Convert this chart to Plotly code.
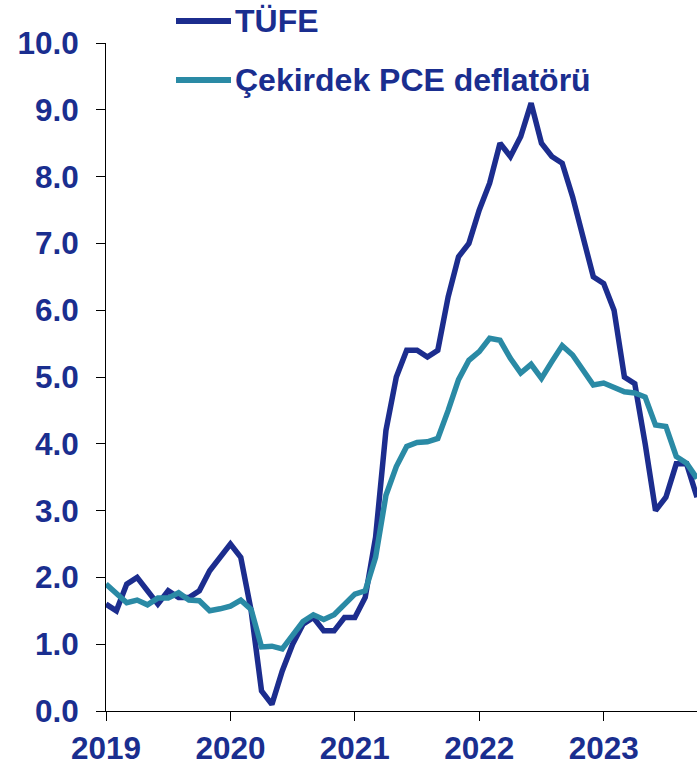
import plotly.graph_objects as go

# Monthly data, Jan 2019 .. Oct 2023
start_year = 2019
tufe = [1.6, 1.5, 1.9, 2.0, 1.8, 1.6, 1.8, 1.7, 1.7, 1.8, 2.1, 2.3,
        2.5, 2.3, 1.5, 0.3, 0.1, 0.6, 1.0, 1.3, 1.4, 1.2, 1.2, 1.4,
        1.4, 1.7, 2.6, 4.2, 5.0, 5.4, 5.4, 5.3, 5.4, 6.2, 6.8, 7.0,
        7.5, 7.9, 8.5, 8.3, 8.6, 9.1, 8.5, 8.3, 8.2, 7.7, 7.1, 6.5,
        6.4, 6.0, 5.0, 4.9, 4.0, 3.0, 3.2, 3.7, 3.7, 3.2]
core_pce = [1.90, 1.76, 1.62, 1.66, 1.59, 1.69, 1.69, 1.77, 1.66, 1.65, 1.50, 1.53,
            1.57, 1.66, 1.52, 0.96, 0.97, 0.93, 1.14, 1.34, 1.44, 1.37, 1.44, 1.59,
            1.75, 1.80, 2.30, 3.23, 3.66, 3.96, 4.02, 4.03, 4.08, 4.50, 4.96, 5.25,
            5.38, 5.58, 5.55, 5.28, 5.06, 5.19, 4.98, 5.23, 5.47, 5.33, 5.10, 4.88,
            4.91, 4.85, 4.78, 4.76, 4.70, 4.28, 4.26, 3.81, 3.71, 3.48]
year_ticks = [2019, 2020, 2021, 2022, 2023]
y_ticks = [0, 1, 2, 3, 4, 5, 6, 7, 8, 9, 10]
series_names = ["TÜFE", "Çekirdek PCE deflatörü"]

x = [start_year + i / 12 for i in range(len(tufe))]

NAVY = "#1c2d8e"
TEAL = "#2a8aa5"
TEXT = "#1a2e8f"
FONT = "Liberation Sans, Arial, Helvetica, sans-serif"
TICK_SIZE = 31.5

fig = go.Figure()
fig.add_trace(go.Scatter(x=x, y=tufe, mode="lines", name=series_names[0],
                         line=dict(color=NAVY, width=5.5), showlegend=False))
fig.add_trace(go.Scatter(x=x, y=core_pce, mode="lines", name=series_names[1],
                         line=dict(color=TEAL, width=5.5), showlegend=False))

W, H = 700, 765
L, R, T, B = 106, 3, 43, 54
pw, ph = W - L - R, H - T - B


def px(xp):
    return (xp - L) / pw


def py(yp):
    return (H - B - yp) / ph


# custom legend
for name, col, yy in [(series_names[0], NAVY, 21), (series_names[1], TEAL, 80)]:
    fig.add_shape(type="line", xref="paper", yref="paper",
                  x0=px(176), x1=px(231), y0=py(yy), y1=py(yy),
                  line=dict(color=col, width=6))
    fig.add_annotation(xref="paper", yref="paper", x=px(233), y=py(yy),
                       xanchor="left", yanchor="middle", text=name, showarrow=False,
                       font=dict(family=FONT, size=32, color=TEXT, weight="bold"))

fig.update_layout(
    width=W, height=H,
    margin=dict(l=L, r=R, t=T, b=B, autoexpand=False),
    paper_bgcolor="white", plot_bgcolor="white",
    font=dict(family=FONT, size=30, color=TEXT, weight="bold"),
    showlegend=False,
)
fig.update_xaxes(
    range=[start_year, x[-1]], tickvals=year_ticks, ticktext=[str(v) for v in year_ticks],
    showline=True, linecolor="black", linewidth=1, ticks="outside", ticklen=9,
    tickcolor="black", showgrid=False, zeroline=False, ticklabelstandoff=0,
    automargin=False,
    tickfont=dict(family=FONT, size=TICK_SIZE, color=TEXT, weight="bold"),
)
fig.update_yaxes(
    range=[0, 10], tickvals=y_ticks, tickformat=".1f",
    showline=True, linecolor="black", linewidth=1, ticks="outside", ticklen=9,
    tickcolor="black", showgrid=False, zeroline=False, ticklabelstandoff=11,
    automargin=False,
    tickfont=dict(family=FONT, size=TICK_SIZE, color=TEXT, weight="bold"),
)

# remove the page's default body margin so the figure fills the window
fig.write_html("out.html",
               config={"displayModeBar": False},
               post_script="document.body.style.margin='0';document.body.style.overflow='hidden';")
